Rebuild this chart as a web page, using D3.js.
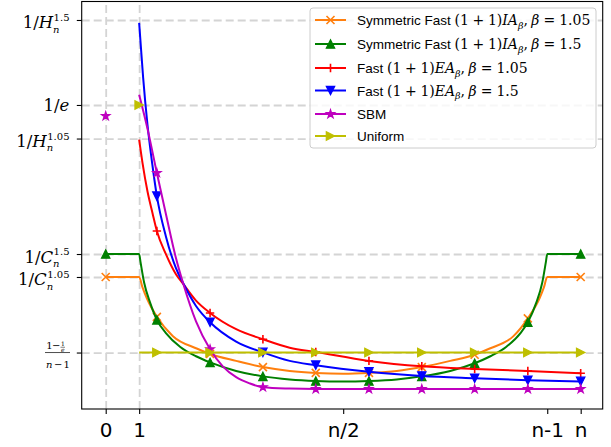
<!DOCTYPE html>
<html><head><meta charset="utf-8">
<script src="https://cdn.jsdelivr.net/npm/d3@7"></script>
<style>body{margin:0;background:#fff} svg{display:block}</style>
</head><body>
<svg id="c" width="611" height="447"></svg>
<script>
// ---------------- DATA ----------------
const xTickValues = [0, 1, 7.1, 13.2, 14.2];
const xTickLabels = ["0", "1", "n/2", "n-1", "n"];
const yTickValues = [0.4778, 0.3679, 0.3245, 0.1752, 0.1455, 0.0478];
const yTickKinds  = ["H1.5", "e", "H1.05", "C1.5", "C1.05", "frac"];
const vGridValues = [0, 1];
const markerXs = [1.53, 3.12, 4.70, 6.28, 7.87, 9.45, 11.03, 12.62, 14.2];

const symIA105X = [0, 1, 1.1, 1.23, 1.53, 2.01, 2.72, 3.12, 3.9, 4.70, 5.5, 6.28, 7.1, 7.87, 8.7, 9.45, 10.3, 11.03, 11.48, 12.19, 12.62, 12.97, 13.1, 13.2, 14.2];
const symIA105Y = [0.1455, 0.1455, 0.132, 0.118, 0.094, 0.069, 0.053, 0.046, 0.037, 0.029, 0.024, 0.0215, 0.0205, 0.0215, 0.024, 0.029, 0.037, 0.045, 0.053, 0.069, 0.092, 0.118, 0.132, 0.1455, 0.1455];

const symIA15X = [0, 1, 1.04, 1.15, 1.33, 1.53, 1.8, 2.23, 2.7, 3.12, 3.9, 4.70, 5.5, 6.28, 7.1, 7.87, 8.7, 9.45, 10.3, 11.03, 11.5, 11.97, 12.4, 12.62, 12.87, 13.05, 13.16, 13.2, 14.2];
const symIA15Y = [0.1752, 0.1752, 0.165, 0.138, 0.112, 0.090, 0.073, 0.055, 0.043, 0.035, 0.024, 0.017, 0.013, 0.011, 0.0103, 0.011, 0.013, 0.017, 0.024, 0.034, 0.043, 0.055, 0.073, 0.087, 0.112, 0.138, 0.165, 0.1752, 0.1752];

const fastEA105X = [1, 1.1, 1.25, 1.4, 1.53, 1.8, 2.1, 2.31, 2.7, 3.12, 3.9, 4.70, 5.5, 6.28, 7.87, 9.45, 11.03, 12.62, 14.2];
const fastEA105Y = [0.323, 0.293, 0.256, 0.228, 0.205, 0.175, 0.149, 0.137, 0.115, 0.099, 0.078, 0.065, 0.054, 0.0485, 0.037, 0.030, 0.0265, 0.024, 0.021];

const fastEA15X = [1, 1.05, 1.12, 1.25, 1.4, 1.53, 1.8, 2.1, 2.31, 2.7, 3.12, 3.9, 4.70, 5.5, 6.28, 7.87, 9.45, 11.03, 12.62, 14.2];
const fastEA15Y = [0.474, 0.444, 0.403, 0.342, 0.289, 0.250, 0.198, 0.157, 0.138, 0.108, 0.087, 0.062, 0.048, 0.037, 0.0315, 0.023, 0.0175, 0.0145, 0.012, 0.0105];

const sbmX = [1, 1.25, 1.53, 1.8, 2.1, 2.31, 2.7, 3.12, 3.5, 3.9, 4.3, 4.70, 5.5, 6.28, 7.87, 9.45, 11.03, 12.62, 14.2];
const sbmY = [0.381, 0.337, 0.280, 0.227, 0.170, 0.138, 0.088, 0.052, 0.030, 0.016, 0.008, 0.003, 0.0012, 0.0006, 0.0006, 0.0006, 0.0006, 0.0006, 0.0006];
const sbmZeroPoint = [0, 0.3536];

const uniformX = [1, 1.53, 3.12, 4.70, 6.28, 7.87, 9.45, 11.03, 12.62, 14.2];
const uniformY = [0.0478, 0.0478, 0.0478, 0.0478, 0.0478, 0.0478, 0.0478, 0.0478, 0.0478, 0.0478];
const uniformOnePoint = [1, 0.3679];

// ---------------- STYLE ----------------
const SANS = "'Liberation Sans', Arial, sans-serif";
const SERIF = "'DejaVu Serif', serif";
const XFONT = "'DejaVu Sans', sans-serif";

const series = [
  {x: symIA105X, y: symIA105Y, color: "#ff7f0e", marker: "x", mx: [0].concat(markerXs)},
  {x: symIA15X,  y: symIA15Y,  color: "#008000", marker: "^", mx: [0].concat(markerXs)},
  {x: fastEA105X, y: fastEA105Y, color: "#ff0000", marker: "+", mx: markerXs},
  {x: fastEA15X, y: fastEA15Y, color: "#0000ff", marker: "v", mx: markerXs},
  {x: sbmX, y: sbmY, color: "#bf00bf", marker: "*", mx: markerXs, extra: sbmZeroPoint},
  {x: uniformX, y: uniformY, color: "#bfbf00", marker: ">", mx: markerXs, extra: uniformOnePoint}
];

const ms = 14; // legend math size
function mathLabel(prefix, letters, beta) {
  return [{t: prefix, f: "sans", s: 13.5}, {t: "(1", pre: 3.8}, {t: "+", pre: 3.6}, {t: "1)", pre: 3.6},
          {t: letters, it: 1}, {t: "β", it: 1, s: 9.5, dy: 3.5}, {t: ",", dy: 0}, {t: "β", it: 1, pre: 3.5},
          {t: "=", pre: 4}, {t: beta, pre: 4}];
}
const legendLabels = [
  mathLabel("Symmetric Fast", "IA", "1.05"),
  mathLabel("Symmetric Fast", "IA", "1.5"),
  mathLabel("Fast", "EA", "1.05"),
  mathLabel("Fast", "EA", "1.5"),
  [{t: "SBM", f: "sans", s: 13.5}],
  [{t: "Uniform", f: "sans", s: 13.5}]
];

// ---------------- CHART ----------------
const svg = d3.select("#c");
const L = 81.7, R = 602.7, T = 1.5, B = 409;
const x = d3.scaleLinear().domain([-0.7175, 14.858]).range([L, R]);
const y = d3.scaleLinear().domain([-0.0252, 0.5017]).range([B, T]);

// grid
const grid = svg.append("g");
grid.append("g").attr("transform", `translate(${L},0)`)
  .call(d3.axisLeft(y).tickValues(yTickValues).tickSize(-(R - L)).tickFormat(""))
  .call(g => g.select(".domain").remove());
grid.append("g").attr("transform", `translate(0,${B})`)
  .call(d3.axisBottom(x).tickValues(vGridValues).tickSize(-(B - T)).tickFormat(""))
  .call(g => g.select(".domain").remove());
grid.selectAll("line").attr("stroke", "#d4d4d4").attr("stroke-width", 1.8).attr("stroke-dasharray", "8,4");

// axes ticks
const ax = svg.append("g").attr("transform", `translate(0,${B})`)
  .call(d3.axisBottom(x).tickValues(xTickValues).tickSize(4.9).tickFormat((d, i) => xTickLabels[i]));
ax.select(".domain").remove();
ax.selectAll("line").attr("stroke", "#000").attr("stroke-width", 1.1);
ax.selectAll("text").attr("font-family", XFONT).attr("font-size", 20).attr("fill", "#000").attr("dy", null).attr("y", 28);

const ay = svg.append("g").attr("transform", `translate(${L},0)`)
  .call(d3.axisLeft(y).tickValues(yTickValues).tickSize(4.9).tickFormat(""));
ay.select(".domain").remove();
ay.selectAll("line").attr("stroke", "#000").attr("stroke-width", 1.1);

// rich text helper: one <text>, positioned tspans
function rich(g, pieces, x0, y0, base) {
  const text = g.append("text").attr("fill", "#000");
  let cx = x0, prevStart = x0, prevW = 0;
  pieces.forEach(p => {
    const s = p.s || base;
    const sx = p.stack ? prevStart + (p.dx || 0) : cx + (p.pre || 0) + (p.dx || 0);
    const t = text.append("tspan").attr("x", sx).attr("y", y0 + (p.dy || 0))
      .attr("font-family", p.f === "sans" ? SANS : SERIF)
      .attr("font-style", p.it ? "italic" : "normal")
      .attr("font-size", s).text(p.t);
    const w = t.node().getComputedTextLength();
    if (p.stack) cx = Math.max(prevStart + prevW, sx + w);
    else { prevStart = sx; prevW = w; cx = sx + w; }
  });
  return text;
}

// y tick labels
const yl = svg.append("g");
yTickValues.forEach((v, i) => {
  const kind = yTickKinds[i];
  const ty = y(v);
  const g = yl.append("g");
  if (kind === "e") {
    rich(g, [{t: "1/"}, {t: "e", it: 1}], 0, ty + 6, 16.5);
  } else if (kind === "frac") {
    g.append("line").attr("x1", 45).attr("x2", 70).attr("y1", ty).attr("y2", ty).attr("stroke", "#000").attr("stroke-width", 0.7);
    g.append("line").attr("x1", 60.5).attr("x2", 65).attr("y1", ty - 5.3).attr("y2", ty - 5.3).attr("stroke", "#000").attr("stroke-width", 0.5);
    const t = g.append("text").attr("font-family", SERIF).attr("fill", "#000");
    t.append("tspan").attr("x", 46.3).attr("y", ty - 3.3).attr("font-size", 10).text("1");
    t.append("tspan").attr("x", 52).attr("y", ty - 3.3).attr("font-size", 10).text("−");
    t.append("tspan").attr("x", 61).attr("y", ty - 6.6).attr("font-size", 6).text("1");
    t.append("tspan").attr("x", 60.9).attr("y", ty - 0.9).attr("font-size", 6).attr("font-style", "italic").text("e");
    t.append("tspan").attr("x", 46).attr("y", ty + 15).attr("font-size", 10).attr("font-style", "italic").text("n");
    t.append("tspan").attr("x", 54).attr("y", ty + 15).attr("font-size", 10).text("−");
    t.append("tspan").attr("x", 63.5).attr("y", ty + 15).attr("font-size", 10).text("1");
    return;
  } else {
    const letter = kind[0];
    const sup = kind.slice(1);
    rich(g, [{t: "1/"}, {t: letter, it: 1}, {t: sup, s: 10, dy: -7.2, pre: 0.5},
             {t: "n", it: 1, s: 10, dy: 4.2, stack: true, dx: -0.5}], 0, ty + 8.5, 16.5);
  }
  const bb = g.node().getBBox();
  g.attr("transform", `translate(${69.5 - (bb.x + bb.width)},0)`);
});

// markers
function drawMarker(g, type, color, cx, cy) {
  const r = 4.2;
  let d, filled = true;
  if (type === "x") { const q = 4; d = `M${-q},${-q}L${q},${q}M${-q},${q}L${q},${-q}`; filled = false; }
  else if (type === "+") { d = `M${-r},0H${r}M0,${-r}V${r}`; filled = false; }
  else if (type === "^") d = `M0,${-r}L${r},${r}L${-r},${r}Z`;
  else if (type === "v") d = `M0,${r}L${r},${-r}L${-r},${-r}Z`;
  else if (type === ">") d = `M${r},0L${-r},${r}L${-r},${-r}Z`;
  else if (type === "*") {
    const R0 = 4.4, r0 = R0 * 0.382; const pts = [];
    for (let k = 0; k < 10; k++) { const a = -Math.PI / 2 + k * Math.PI / 5; const rr = k % 2 ? r0 : R0; pts.push([rr * Math.cos(a), rr * Math.sin(a)]); }
    d = "M" + pts.map(p => p[0].toFixed(2) + "," + p[1].toFixed(2)).join("L") + "Z";
  }
  g.append("path").attr("transform", `translate(${cx},${cy})`).attr("d", d)
    .attr("fill", filled ? color : "none").attr("stroke", color)
    .attr("stroke-width", filled ? 1.2 : 1.6).attr("stroke-linejoin", "miter");
}

// lines
const line = d3.line().x(d => x(d[0])).y(d => y(d[1])).curve(d3.curveMonotoneX);
const plot = svg.append("g");
series.forEach(s => {
  const pts = s.x.map((xv, i) => [xv, s.y[i]]);
  const g = plot.append("g");
  g.append("path").datum(pts).attr("d", line).attr("fill", "none").attr("stroke", s.color)
    .attr("stroke-width", 2).attr("stroke-linejoin", "round");
  pts.filter(p => s.mx.includes(p[0])).forEach(p => drawMarker(g, s.marker, s.color, x(p[0]), y(p[1])));
  if (s.extra) drawMarker(g, s.marker, s.color, x(s.extra[0]), y(s.extra[1]));
});

// frame
svg.append("rect").attr("x", L).attr("y", T).attr("width", R - L).attr("height", B - T)
  .attr("fill", "none").attr("stroke", "#000").attr("stroke-width", 1.1);

// legend
const lg = svg.append("g");
lg.append("rect").attr("x", 310).attr("y", 8).attr("width", 286).attr("height", 140).attr("rx", 3)
  .attr("fill", "#fff").attr("fill-opacity", 0.8).attr("stroke", "#cccccc").attr("stroke-width", 1);
const rowY = [20, 44, 68, 90.5, 114, 136];
series.forEach((s, i) => {
  const cy = rowY[i];
  lg.append("line").attr("x1", 315).attr("x2", 346).attr("y1", cy).attr("y2", cy).attr("stroke", s.color).attr("stroke-width", 2);
  drawMarker(lg, s.marker, s.color, 330.5, cy);
  rich(lg, legendLabels[i], 357, cy + 5.2, ms);
});
</script>
</body></html>
